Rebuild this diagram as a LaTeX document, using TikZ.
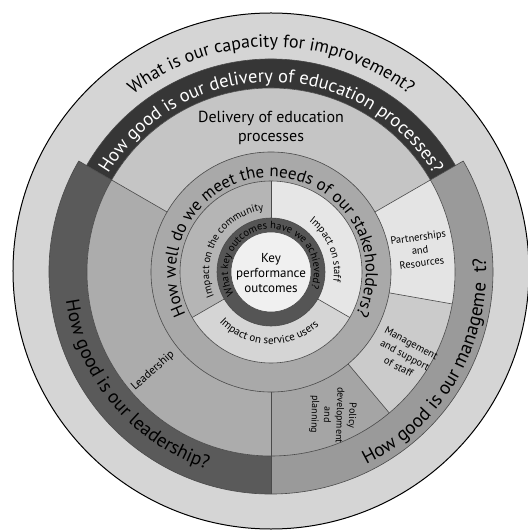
\documentclass[tikz,border=0pt]{standalone}
\usepackage{fontspec}
\setmainfont{PT Sans}
\usetikzlibrary{decorations.text}
\definecolor{outerc}{HTML}{D5D5D5}
\definecolor{topband}{HTML}{363636}
\definecolor{leftband}{HTML}{5A5A5A}
\definecolor{rightband}{HTML}{9A9A9A}
\definecolor{delivc}{HTML}{C5C5C5}
\definecolor{leadc}{HTML}{ACACAC}
\definecolor{partc}{HTML}{E4E4E4}
\definecolor{mgmtc}{HTML}{CBCBCB}
\definecolor{polc}{HTML}{A5A5A5}
\definecolor{stakec}{HTML}{A9A9A9}
\definecolor{commc}{HTML}{B5B5B5}
\definecolor{staffc}{HTML}{E6E6E6}
\definecolor{servc}{HTML}{D5D5D5}
\definecolor{kpoc}{HTML}{555555}
\definecolor{centc}{HTML}{F0F0F0}
\definecolor{linec}{HTML}{4A4A4A}
\newcommand\annsec[5]{%
  \fill[#1] (#2:#4) arc[start angle=#2, end angle=#3, radius=#4] -- (#3:#5) arc[start angle=#3, end angle=#2, radius=#5] -- cycle;}
\tikzset{
  ring/.style={draw=linec, line width=0.6pt},
  curved/.style={decorate, decoration={text along path, text align=center, text={#1}}},
  blocktext/.style={align=center, inner sep=0pt, text=black},
}
\begin{document}
\begin{tikzpicture}[x=1pt,y=1pt]
\useasboundingbox (-271,-260) rectangle (256,272);
% outer disc
\fill[outerc] (0,1) circle[radius=258];
% ring 6
\annsec{topband}{30}{150}{184}{213}
\annsec{leftband}{150}{270}{184}{222}
\annsec{rightband}{-90}{30}{184}{222}
% ring 5
\annsec{delivc}{30}{150}{120}{184}
\annsec{partc}{-10}{30}{120}{184}
\annsec{mgmtc}{-50}{-10}{120}{184}
\annsec{polc}{-90}{-50}{120}{184}
\annsec{leadc}{150}{270}{120}{184}
% ring 4
\fill[stakec, even odd rule] (0,0) circle[radius=120] (0,0) circle[radius=91];
% ring 3
\annsec{commc}{90}{210}{54}{91}
\annsec{staffc}{-30}{90}{54}{91}
\annsec{servc}{210}{330}{54}{91}
% ring 2 and centre
\fill[kpoc] (0,0) circle[radius=54];
\fill[centc] (0,0) circle[radius=40];
% boundary lines
\draw[ring] (0,0) circle[radius=40] circle[radius=54] circle[radius=91] circle[radius=120] circle[radius=184];
\draw[ring] (150:222) arc[start angle=150, end angle=390, radius=222];
\draw[ring] (30:213) arc[start angle=30, end angle=150, radius=213];
\foreach \a in {90,-30,210} \draw[ring] (\a:54) -- (\a:91);
\foreach \a in {30,150,-10,-50,-90} \draw[ring] (\a:120) -- (\a:184);
\foreach \a in {30,150,-90} \draw[ring] (\a:184) -- (\a:222);
\draw[black, line width=1pt] (0,1) circle[radius=258];
% curved texts
\path[curved={|\fontsize{18}{18}\selectfont|What is our capacity for improvement?}] (160:225) arc[start angle=160, end angle=20, radius=225];
\path[curved={|\fontsize{18.5}{18.5}\selectfont|How good is our delivery of education processes?}, decoration={text color=white}] (155:190) arc[start angle=155, end angle=25, radius=190];
\path[curved={|\fontsize{19}{19}\selectfont|How good is our leadership?}] (175:207) arc[start angle=175, end angle=265, radius=207];
\path[curved={|\fontsize{19}{19}\selectfont|How good is our manageme{\phantom{n}}t?}] (-75:215) arc[start angle=-75, end angle=15, radius=215];
\path[curved={|\fontsize{17}{17}\selectfont|How well do we meet the needs of our stakeholders?}] (215:95) arc[start angle=215, end angle=-35, radius=95];
\path[curved={|\fontsize{10.5}{10.5}\selectfont|What key outcomes have we achieved?}] (240:43) arc[start angle=240, end angle=-50, radius=43];
\path[curved={|\fontsize{10.5}{10.5}\selectfont|Impact on the community}] (215:62) arc[start angle=215, end angle=85, radius=62];
\path[curved={|\fontsize{10.5}{10.5}\selectfont|Impact on staff}] (80:63) arc[start angle=80, end angle=-36, radius=63];
\path[curved={|\fontsize{11}{11}\selectfont|Impact on service users}] (208:72) arc[start angle=208, end angle=328, radius=72];
% block texts
\node[blocktext, font=\fontsize{13}{15}\selectfont] (kpo) at (0,-1) {Key\\performance\\outcomes};
\node[blocktext, font=\fontsize{16}{19}\selectfont] (deliv) at (0,144.5) {Delivery of education\\processes};
\node[blocktext, font=\fontsize{10.5}{13}\selectfont, rotate=8] (part) at (149,22) {Partnerships\\and\\Resources};
\node[blocktext, font=\fontsize{10.5}{13.5}\selectfont, rotate=-28] (mgmt) at (134,-83) {Management\\and support\\of staff};
\node[blocktext, font=\fontsize{10}{12.5}\selectfont, rotate=-92] (pol) at (62,-143) {Policy\\development\\and\\planning};
\node[blocktext, font=\fontsize{11.5}{13}\selectfont, rotate=42] (lead) at (-118,-99) {Leadership};
\end{tikzpicture}
\end{document}
